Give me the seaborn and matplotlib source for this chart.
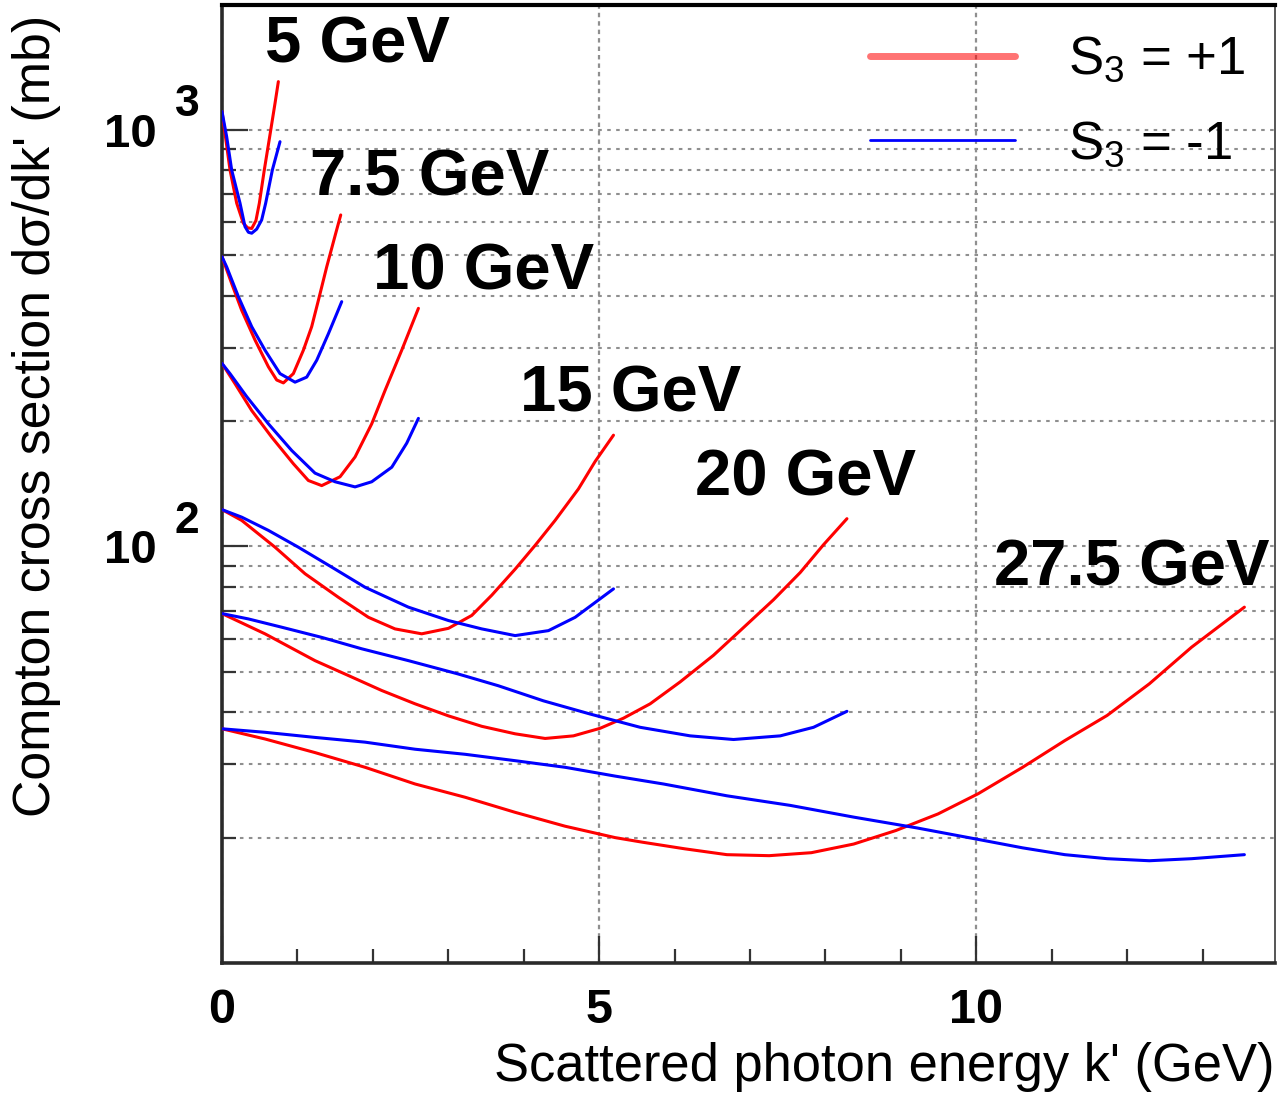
import numpy as np
import pandas as pd
import matplotlib
matplotlib.use("Agg")
import matplotlib.pyplot as plt
import seaborn as sns
from matplotlib.lines import Line2D
from matplotlib.ticker import LogLocator, MultipleLocator, NullFormatter

# ---------------- data ----------------
energies = ["5 GeV", "7.5 GeV", "10 GeV", "15 GeV", "20 GeV", "27.5 GeV"]

k5_p = [0, 0.106, 0.195, 0.283, 0.340, 0.394, 0.450, 0.495, 0.561, 0.632, 0.703, 0.747]
s5_p = [1107, 802, 667, 597, 582, 580, 606, 667, 802, 963, 1159, 1306]
k5_m = [0, 0.062, 0.128, 0.239, 0.305, 0.350, 0.394, 0.460, 0.526, 0.579, 0.668, 0.769]
s5_m = [1107, 963, 802, 667, 586, 568, 565, 578, 608, 667, 802, 937]

k75_p = [0, 0.128, 0.261, 0.438, 0.615, 0.725, 0.814, 0.946, 1.079, 1.189, 1.278, 1.388, 1.508, 1.574]
s75_p = [496, 428, 369, 313, 270, 251, 247, 260, 296, 337, 390, 469, 565, 625]
k75_m = [0, 0.062, 0.217, 0.394, 0.570, 0.769, 0.968, 1.123, 1.256, 1.410, 1.521, 1.587]
s75_m = [496, 469, 398, 337, 296, 260, 248, 255, 280, 324, 362, 387]

k10_p = [0, 0.172, 0.394, 0.659, 0.946, 1.145, 1.322, 1.565, 1.764, 1.985, 2.162, 2.383, 2.604]
s10_p = [275, 246, 212, 183, 158, 144, 140, 147, 164, 197, 237, 296, 373]
k10_m = [0, 0.106, 0.327, 0.615, 0.924, 1.233, 1.499, 1.764, 1.985, 2.251, 2.449, 2.604]
s10_m = [275, 260, 229, 197, 170, 150, 143, 139, 143, 155, 177, 203]

k15_p = [0, 0.261, 0.703, 1.101, 1.543, 1.941, 2.294, 2.648, 3.002, 3.311, 3.577, 3.886,
         4.151, 4.416, 4.726, 4.947, 5.190]
s15_p = [122.6, 115.5, 99.6, 86.0, 75.5, 67.6, 63.4, 61.7, 63.6, 68.3, 76.4, 88.2,
         100.6, 115.5, 137.5, 160, 185]
k15_m = [0, 0.261, 0.615, 1.012, 1.455, 1.897, 2.471, 3.002, 3.444, 3.886, 4.328, 4.682, 5.190]
s15_m = [122.6, 117.6, 109.3, 99.6, 89.2, 79.8, 71.5, 66.4, 63.4, 61.1, 62.8, 67.6, 79.1]

k20_p = [0, 0.570, 1.233, 1.675, 2.118, 2.560, 3.002, 3.444, 3.886, 4.284, 4.659, 5.013,
         5.322, 5.676, 6.074, 6.516, 6.870, 7.312, 7.666, 7.975, 8.285]
s20_p = [69, 61.7, 53.2, 49.0, 45.1, 41.9, 39.2, 37.0, 35.5, 34.6, 35.1, 36.6,
         38.7, 41.9, 47.3, 54.8, 62.8, 74.5, 86.6, 101.0, 116.6]
k20_m = [0, 0.349, 0.791, 1.322, 1.852, 2.471, 3.134, 3.664, 4.261, 4.881, 5.544, 6.207,
         6.781, 7.401, 7.842, 8.285]
s20_m = [69, 67.0, 64.0, 60.5, 56.8, 53.2, 49.4, 46.3, 42.6, 39.6, 36.8, 35.1,
         34.4, 35.1, 36.8, 40.2]

k275_p = [0, 0.570, 1.233, 1.897, 2.560, 3.223, 3.886, 4.549, 5.212, 5.573, 6.134, 6.694,
          7.254, 7.813, 8.374, 8.934, 9.493, 10.026, 10.614, 11.174, 11.735, 12.294, 12.854, 13.554]
s275_p = [36.5, 34.5, 32.0, 29.5, 26.9, 25.0, 23.0, 21.3, 20.0, 19.5, 18.8, 18.2,
          18.1, 18.4, 19.3, 20.8, 22.8, 25.5, 29.5, 34.2, 39.3, 46.8, 57.3, 71.5]
k275_m = [0, 0.570, 1.233, 1.897, 2.560, 3.223, 3.886, 4.549, 5.212, 5.853, 6.694, 7.533,
          8.374, 9.213, 10.026, 10.614, 11.174, 11.735, 12.294, 12.854, 13.554]
s275_m = [36.5, 35.8, 34.8, 33.9, 32.6, 31.7, 30.6, 29.5, 28.1, 26.9, 25.2, 23.9,
          22.4, 21.1, 19.8, 18.9, 18.2, 17.8, 17.6, 17.8, 18.2]

legend_labels = ["S$_3$ = +1", "S$_3$ = -1"]
x_label = "Scattered photon energy k' (GeV)"
y_label = "Compton cross section d\u03c3/dk' (mb)"
x_ticks = [0, 5, 10]
x_ticklabels = ["0", "5", "10"]
y_ticks = [100, 1000]
y_ticklabels = ["10", "10"]
y_exponents = ["2", "3"]

# ---------------- build table ----------------
curves = [
    ("5 GeV", "+1", k5_p, s5_p), ("5 GeV", "-1", k5_m, s5_m),
    ("7.5 GeV", "+1", k75_p, s75_p), ("7.5 GeV", "-1", k75_m, s75_m),
    ("10 GeV", "+1", k10_p, s10_p), ("10 GeV", "-1", k10_m, s10_m),
    ("15 GeV", "+1", k15_p, s15_p), ("15 GeV", "-1", k15_m, s15_m),
    ("20 GeV", "+1", k20_p, s20_p), ("20 GeV", "-1", k20_m, s20_m),
    ("27.5 GeV", "+1", k275_p, s275_p), ("27.5 GeV", "-1", k275_m, s275_m),
]
rows = []
for e, pol, ks, ss in curves:
    for kk, sv in zip(ks, ss):
        rows.append({"E": e, "pol": pol, "curve": e + pol, "k": kk, "sigma": sv})
df = pd.DataFrame(rows)

# ---------------- style ----------------
sns.set_theme(style="white")
plt.rcParams["font.family"] = ["Liberation Sans", "DejaVu Sans"]
plt.rcParams["mathtext.fontset"] = "custom"
plt.rcParams["mathtext.rm"] = "Liberation Sans"
plt.rcParams["mathtext.it"] = "Liberation Sans:italic"
plt.rcParams["mathtext.bf"] = "Liberation Sans:bold"
for key in ["text.color", "axes.labelcolor", "xtick.color", "ytick.color"]:
    plt.rcParams[key] = "black"

W, H = 1278, 1096
L, R, T, B = 222, 1275, 5, 963
fig = plt.figure(figsize=(W / 100, H / 100), dpi=100)
ax = fig.add_axes([L / W, 1 - B / H, (R - L) / W, (B - T) / H])
ax.set_yscale("log")

sns.lineplot(data=df, x="k", y="sigma", hue="pol", units="curve", estimator=None,
             sort=False, palette={"+1": "#ff0000", "-1": "#0000ff"}, legend=False,
             linewidth=2.2, ax=ax, zorder=3)

ax.set_xlim(0, 13.96)
ax.set_ylim(10, 1995)

# ticks
ax.set_xticks(x_ticks, labels=x_ticklabels, fontweight="bold", fontsize=35)
ax.xaxis.set_minor_locator(MultipleLocator(1))
ax.set_yticks(y_ticks, labels=y_ticklabels, fontweight="bold", fontsize=34)
ax.yaxis.set_minor_locator(LogLocator(base=10, subs=np.arange(2, 10)))
ax.yaxis.set_minor_formatter(NullFormatter())

tc = "#333333"
ax.tick_params(axis="x", which="major", direction="in", length=19.5, width=1.6, color=tc,
               pad=18, bottom=True, top=False, labelcolor="black")
ax.tick_params(axis="x", which="minor", direction="in", length=10, width=1.6, color=tc,
               bottom=True, top=False)
ax.tick_params(axis="y", which="major", direction="in", length=19, width=1.6, color=tc,
               pad=47, left=True, right=False, labelcolor="black")
ax.tick_params(axis="y", which="minor", direction="in", length=10, width=1.6, color=tc,
               left=True, right=False)

# exponents of the y tick labels
for yv, ex in zip(y_ticks, y_exponents):
    ax.annotate(ex, xy=(0, yv), xycoords=("axes fraction", "data"),
                xytext=(-34, 18), textcoords="offset points",
                fontsize=32, fontweight="bold", ha="left", va="center", annotation_clip=False)

# grid
ax.grid(True, which="both", axis="y", color="#8f8f8f", linewidth=1.5, linestyle=(0, (1.7, 2.6)), zorder=0)
ax.grid(True, which="major", axis="x", color="#8f8f8f", linewidth=1.6, linestyle=(0, (2.0, 1.8)), zorder=0)
ax.set_axisbelow(True)

# spines
for side, lw, col in [("left", 2.6, "#2a2a2a"), ("bottom", 2.6, "#2a2a2a"),
                      ("top", 3.0, "#000000"), ("right", 1.4, "#555555")]:
    ax.spines[side].set_visible(True)
    ax.spines[side].set_linewidth(lw)
    ax.spines[side].set_color(col)

# labels
ax.set_xlabel(x_label, fontsize=37.8, loc="right", color="black")
ax.xaxis.set_label_coords(1.0, (B - 1042) / (B - T))
ax.set_ylabel(y_label, fontsize=37.4, loc="top", color="black")
ax.yaxis.set_label_coords((61 - L) / (R - L), (B - 15) / (B - T))

# energy annotations (left, baseline in px)
ann_pos = [(265, 62.5), (310, 195), (373, 289), (520, 411), (695, 496), (994, 586)]
for txt, (px, py) in zip(energies, ann_pos):
    ax.text((px - L) / (R - L), (B - py) / (B - T), txt, transform=ax.transAxes,
            fontsize=47, fontweight="bold", ha="left", va="baseline", zorder=5, color="black")

# legend
handles = [Line2D([], [], color="#ff0000", alpha=0.55, lw=5),
           Line2D([], [], color="#0000ff", lw=2)]
ax.legend(handles, legend_labels, loc="upper left",
          bbox_to_anchor=((870 - L) / (R - L), (B - 35) / (B - T)),
          frameon=False, fontsize=38, handlelength=2.75, handletextpad=1.0,
          labelspacing=0.66, borderpad=0, borderaxespad=0, labelcolor="black")

fig.savefig("out.png", dpi=100)
